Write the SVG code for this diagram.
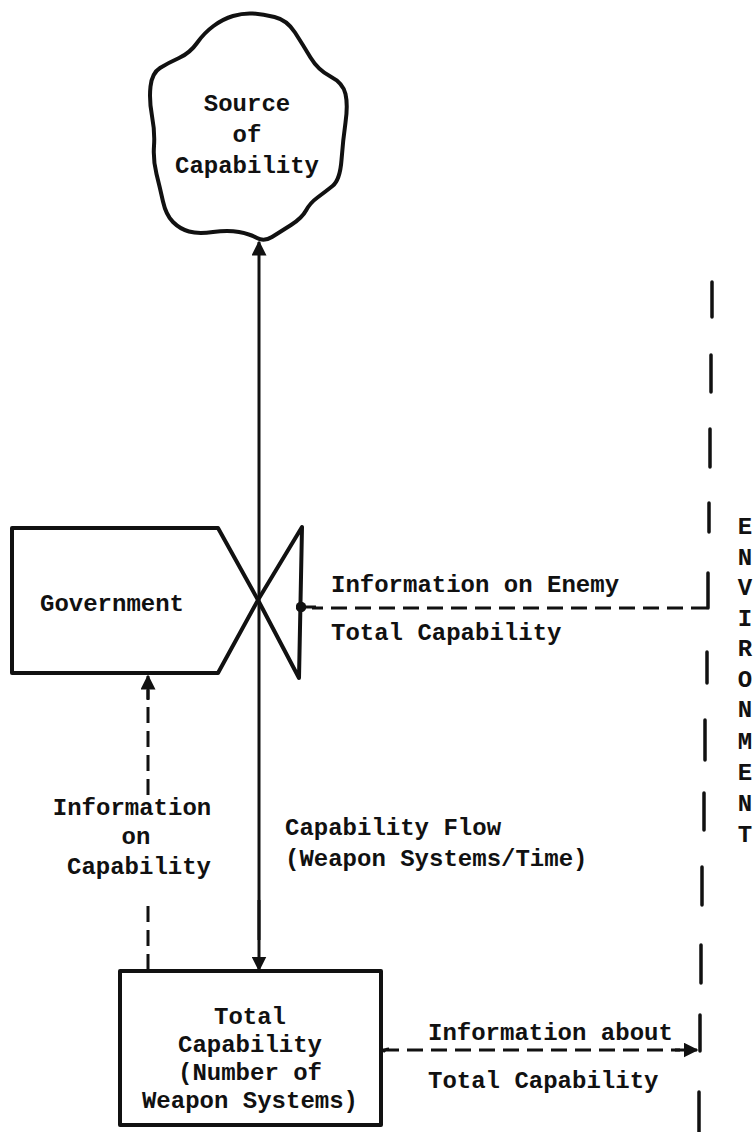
<svg xmlns="http://www.w3.org/2000/svg" width="755" height="1132" viewBox="0 0 755 1132">
<defs>
<style>
.t{font-family:"Liberation Mono","DejaVu Sans Mono",monospace;font-weight:bold;font-size:24px;fill:#111}
.s{fill:none;stroke:#111;stroke-width:4;stroke-linejoin:round}
.ln{fill:none;stroke:#111;stroke-width:3}
.d{fill:none;stroke:#111;stroke-width:3;stroke-dasharray:16 8}
.env{fill:none;stroke:#111;stroke-width:3.5;stroke-linecap:round}
</style>
<marker id="arr" viewBox="0 0 10 10" refX="9" refY="5" markerWidth="5" markerHeight="5" orient="auto" markerUnits="strokeWidth">
<path d="M0,0 L10,5 L0,10 Z" fill="#111"/>
</marker>
<marker id="dot" viewBox="0 0 10 10" refX="5" refY="5" markerWidth="3.5" markerHeight="3.5" orient="auto" markerUnits="strokeWidth">
<circle cx="5" cy="5" r="5" fill="#111"/>
</marker>
</defs>
<rect width="755" height="1132" fill="#fff"/>

<g id="source">
<path class="s" stroke-width="5" d="M 252.5,13.5 Q 262,14 274.5,17 Q 287,20 295,32.5 Q 303,45 310.5,57.5 Q 318,70 330.5,76.5 Q 343,83 345.5,94 Q 348,105 345.5,122.5 Q 343,140 341.5,160 Q 340,180 332.5,186 Q 325,192 317.5,197.5 Q 310,203 306,210.5 Q 302,218 291,225 Q 280,232 272,237 Q 264,242 257,238 Q 250,234 239,232 Q 228,230 213,232 Q 198,234 189,231.5 Q 180,229 173,222 Q 166,215 163,201.5 Q 160,188 156.5,174 Q 153,160 154,146 Q 155,132 152,116 Q 149,100 150.5,86.5 Q 152,73 160,68 Q 168,63 179,58 Q 190,53 197,43 Q 204,33 213.5,26 Q 223,19 233,16 Q 243,13 252.5,13.5 Z"/>
<text class="t" x="247" y="111" text-anchor="middle">Source</text>
<text class="t" x="247" y="142" text-anchor="middle">of</text>
<text class="t" x="247" y="173" text-anchor="middle">Capability</text>
</g>

<g id="government">
<path class="s" d="M12,528 L218,528 L258,600 L218,673 L12,673 Z"/>
<text class="t" x="40" y="611">Government</text>
</g>

<g id="valve">
<path class="s" d="M258,600 L302,527 L299,678 Z"/>
</g>

<g id="total">
<rect class="s" x="120" y="971" width="261" height="154"/>
<text class="t" x="250" y="1024" text-anchor="middle" font-size="22">Total</text>
<text class="t" x="250" y="1052" text-anchor="middle" font-size="22">Capability</text>
<text class="t" x="250" y="1080" text-anchor="middle" font-size="22">(Number of</text>
<text class="t" x="250" y="1108" text-anchor="middle" font-size="22">Weapon Systems)</text>
</g>

<g id="environment">
<path class="env" d="M712,282 V317 M711,355 V392 M710,429 V467 M709,503 V532 M708,573 V608 M707,652 V683 M705,720 V760 M704,793 V830 M702,867 V905 M701,945 V983 M700,1015 V1051 M699,1092 V1132"/>
<g class="t" font-size="22" text-anchor="middle">
<text x="745" y="534">E</text>
<text x="745" y="565">N</text>
<text x="745" y="595">V</text>
<text x="745" y="626">I</text>
<text x="745" y="656">R</text>
<text x="745" y="687">O</text>
<text x="745" y="717">N</text>
<text x="745" y="749">M</text>
<text x="745" y="780">E</text>
<text x="745" y="811">N</text>
<text x="745" y="842">T</text>
</g>
</g>

<g id="connectors">
<line class="ln" x1="259" y1="278" x2="259" y2="940"/>
<line class="ln" x1="259" y1="278" x2="259" y2="242" marker-end="url(#arr)"/>
<line class="ln" x1="259" y1="900" x2="259" y2="970" marker-end="url(#arr)"/>
<path class="d" d="M707,608 H312"/>
<line class="ln" x1="316" y1="607" x2="301" y2="607" marker-end="url(#dot)"/>
<path class="d" d="M148,795 V690"/>
<line class="ln" x1="148" y1="700" x2="148" y2="676" marker-end="url(#arr)"/>
<path class="d" d="M148,970 V900"/>
<path class="d" d="M383,1050 H680"/>
<line class="ln" x1="675" y1="1050" x2="697" y2="1050" marker-end="url(#arr)"/>
<path class="ln" d="M383,1052 q2,-3 6,-3"/>
</g>

<g id="labels">
<text class="t" x="331" y="592">Information on Enemy</text>
<text class="t" x="331" y="640">Total Capability</text>
<text class="t" x="132" y="815" text-anchor="middle">Information</text>
<text class="t" x="136" y="844" text-anchor="middle">on</text>
<text class="t" x="139" y="874" text-anchor="middle">Capability</text>
<text class="t" x="285" y="835">Capability Flow</text>
<text class="t" x="285" y="866">(Weapon Systems/Time)</text>
<text class="t" x="428" y="1040">Information about</text>
<text class="t" x="428" y="1088">Total Capability</text>
</g>
</svg>
